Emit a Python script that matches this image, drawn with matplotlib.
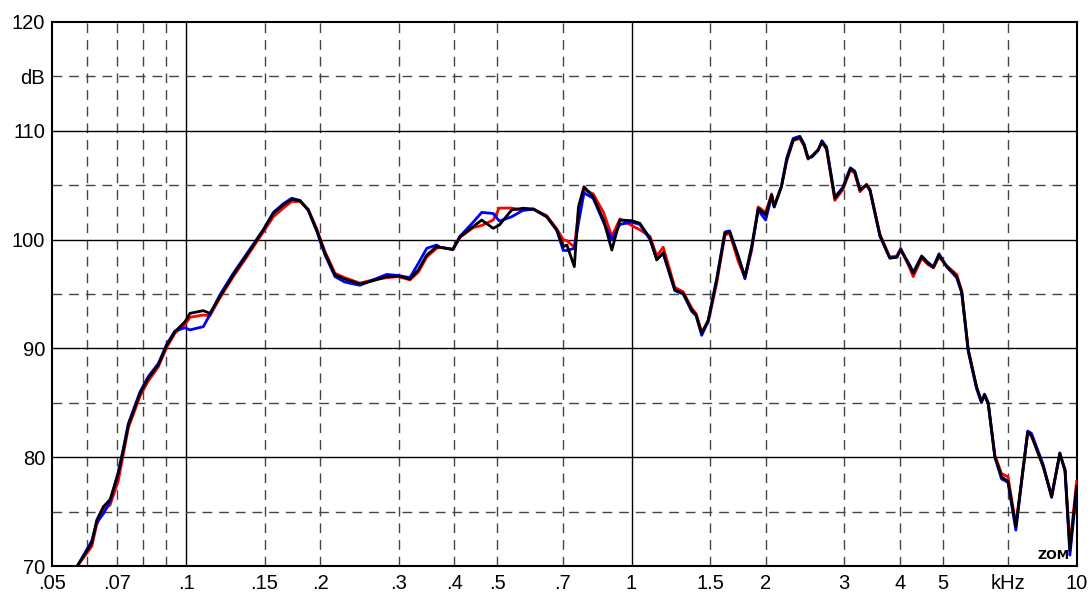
import matplotlib
matplotlib.use("Agg")
import matplotlib.pyplot as plt

# frequency points (kHz) shared by the three measurements
freq_khz = [0.057, 0.0614, 0.063, 0.0652, 0.0675, 0.0704, 0.0723, 0.0742, 0.0788, 0.0822,
            0.0866, 0.0905, 0.0944, 0.0994, 0.102, 0.1093, 0.1131, 0.119, 0.1276, 0.1368,
            0.149, 0.157, 0.1653, 0.1726, 0.1802, 0.188, 0.1964, 0.205, 0.2159, 0.227,
            0.2456, 0.263, 0.282, 0.300, 0.318, 0.332, 0.347, 0.365, 0.3715, 0.397,
            0.412, 0.441, 0.461, 0.489, 0.505, 0.538, 0.571, 0.602, 0.645, 0.679,
            0.7025, 0.716, 0.744, 0.760, 0.782, 0.820, 0.865, 0.903, 0.942, 1.0,
            1.044, 1.1, 1.139, 1.178, 1.251, 1.306, 1.365, 1.396, 1.437, 1.486,
            1.553, 1.62, 1.66, 1.736, 1.797, 1.86, 1.925, 2.0, 2.063, 2.09,
            2.17, 2.23, 2.306, 2.387, 2.44, 2.49, 2.54, 2.625, 2.675, 2.74,
            2.86, 2.98, 3.10, 3.17, 3.257, 3.37, 3.43, 3.61, 3.80, 3.94,
            4.02, 4.22, 4.29, 4.48, 4.63, 4.76, 4.9, 5.1, 5.37, 5.51,
            5.70, 5.95, 6.1, 6.2, 6.32, 6.54, 6.77, 7.0, 7.29, 7.75,
            7.9, 8.40, 8.77, 9.15, 9.4, 9.64, 9.98]

black_db = [70.0, 72.1, 74.2, 75.45, 76.1, 78.5, 80.66, 82.96, 85.87, 87.25,
            88.47, 90.31, 91.54, 92.45, 93.22, 93.47, 93.22, 94.75, 96.75, 98.58,
            100.88, 102.41, 103.18, 103.7, 103.57, 102.72, 100.88, 98.74, 96.75, 96.38,
            95.92, 96.22, 96.59, 96.65, 96.38, 97.2, 98.58, 99.35, 99.29, 99.1,
            100.27, 101.19, 101.8, 101.04, 101.34, 102.72, 102.88, 102.81, 102.1, 100.88,
            99.35, 99.5, 97.51, 103.02, 104.86, 103.94, 101.8, 99.04, 101.8, 101.74,
            101.5, 100.12, 98.13, 98.8, 95.37, 95.06, 93.53, 93.07, 91.39, 92.6,
            96.29, 100.58, 100.73, 98.43, 96.6, 99.35, 102.88, 102.26, 104.1, 103.0,
            104.86, 107.32, 109.15, 109.4, 108.7, 107.47, 107.62, 108.24, 109.0, 108.4,
            103.8, 104.72, 106.55, 106.24, 104.56, 105.02, 104.56, 100.4, 98.3, 98.37,
            99.04, 97.51, 96.9, 98.43, 97.82, 97.45, 98.58, 97.51, 96.59, 95.21,
            89.85, 86.48, 85.1, 85.72, 84.95, 80.05, 78.21, 77.75, 73.61, 82.3,
            82.0, 79.13, 76.37, 80.36, 78.82, 71.47, 77.29]

red_db = [70.0, 71.8, 73.8, 75.2, 75.6, 77.8, 80.3, 82.7, 85.6, 87.0,
          88.3, 90.1, 91.4, 92.2, 92.86, 93.07, 93.0, 94.6, 96.6, 98.4,
          100.7, 102.1, 102.9, 103.5, 103.5, 102.8, 101.0, 98.9, 96.9, 96.5,
          96.0, 96.3, 96.5, 96.6, 96.3, 97.0, 98.4, 99.2, 99.3, 99.1,
          100.2, 101.1, 101.3, 101.8, 102.9, 102.9, 102.7, 102.8, 102.2, 101.0,
          100.0, 99.9, 99.3, 102.5, 104.6, 104.2, 102.5, 100.3, 101.9, 101.3,
          100.9, 100.3, 98.5, 99.3, 95.6, 95.2, 93.7, 93.2, 91.5, 92.4,
          96.0, 100.4, 100.6, 98.0, 96.5, 99.0, 103.0, 102.5, 104.2, 103.1,
          104.9, 107.2, 109.1, 109.3, 108.6, 107.4, 107.7, 108.3, 108.9, 108.3,
          103.6, 104.6, 106.4, 106.1, 104.4, 105.1, 104.6, 100.5, 98.4, 98.5,
          99.2, 97.3, 96.6, 98.3, 97.7, 97.4, 98.4, 97.6, 96.8, 95.3,
          89.9, 86.4, 85.2, 85.6, 84.9, 80.2, 78.5, 78.2, 73.8, 82.2,
          82.0, 79.1, 76.5, 80.2, 78.9, 71.8, 77.8]

blue_db = [70.0, 72.3, 74.0, 74.8, 75.9, 78.6, 80.8, 83.1, 86.0, 87.4,
           88.6, 90.4, 91.6, 91.9, 91.7, 92.0, 93.1, 94.9, 96.9, 98.7,
           100.9, 102.5, 103.3, 103.8, 103.6, 102.7, 100.8, 98.6, 96.6, 96.1,
           95.8, 96.3, 96.8, 96.7, 96.5, 97.8, 99.2, 99.5, 99.3, 99.1,
           100.3, 101.6, 102.5, 102.4, 101.7, 102.1, 102.7, 102.8, 102.1, 100.9,
           99.0, 99.0, 99.2, 101.5, 104.3, 103.8, 101.6, 100.0, 101.4, 101.6,
           101.4, 100.0, 98.2, 98.7, 95.3, 95.0, 93.4, 93.0, 91.2, 92.5,
           96.4, 100.7, 100.8, 98.5, 96.4, 99.2, 102.7, 101.8, 104.0, 103.0,
           104.9, 107.5, 109.3, 109.5, 108.8, 107.5, 107.6, 108.2, 109.1, 108.5,
           103.9, 104.8, 106.6, 106.3, 104.6, 105.0, 104.5, 100.3, 98.3, 98.4,
           99.1, 97.6, 97.0, 98.5, 97.9, 97.5, 98.7, 97.5, 96.5, 95.1,
           89.7, 86.3, 85.0, 85.8, 85.0, 80.0, 78.0, 77.7, 73.3, 82.4,
           82.2, 79.3, 76.3, 80.4, 78.7, 71.0, 77.1]

x_tick_vals = [0.05, 0.07, 0.1, 0.15, 0.2, 0.3, 0.4, 0.5, 0.7, 1, 1.5, 2, 3, 4, 5, 7, 10]
x_tick_text = ['.05', '.07', '.1', '.15', '.2', '.3', '.4', '.5', '.7', '1', '1.5', '2',
               '3', '4', '5', 'kHz', '10']
y_tick_vals = [70, 80, 90, 100, 110, 115, 120]
y_tick_text = ['70', '80', '90', '100', '110', 'dB', '120']

x_solid = [0.1, 1]
x_dashed = [0.06, 0.07, 0.08, 0.09, 0.15, 0.2, 0.3, 0.4, 0.5, 0.7, 1.5, 2, 3, 4, 5, 7]
y_solid = [80, 90, 100, 110]
y_dashed = [75, 85, 95, 105, 115]

plt.rcParams['font.family'] = ['Liberation Sans', 'DejaVu Sans']

fig = plt.figure(figsize=(10.91, 5.94), dpi=100)
ax = fig.add_axes([52 / 1091, 28 / 594, 1025 / 1091, 544 / 594])

ax.set_xscale('log')
ax.set_xlim(0.05, 10)
ax.set_ylim(70, 120)

for v in x_solid:
    ax.axvline(v, color='black', lw=1.0, zorder=1)
for v in x_dashed:
    ax.axvline(v, color='#444444', lw=1.0, ls=(0, (7, 5)), zorder=1)
for v in y_solid:
    ax.axhline(v, color='black', lw=1.0, zorder=1)
for v in y_dashed:
    ax.axhline(v, color='#444444', lw=1.0, ls=(0, (7, 5)), zorder=1)

ax.plot(freq_khz, red_db, color='#ff0000', lw=2.0, zorder=3, solid_joinstyle='round')
ax.plot(freq_khz, blue_db, color='#0000ff', lw=2.0, zorder=4, solid_joinstyle='round')
ax.plot(freq_khz, black_db, color='black', lw=2.0, zorder=5, solid_joinstyle='round')

ax.set_xticks(x_tick_vals)
ax.set_xticklabels(x_tick_text)
ax.xaxis.set_minor_locator(matplotlib.ticker.NullLocator())
ax.set_yticks(y_tick_vals)
ax.set_yticklabels(y_tick_text)
ax.tick_params(length=0, labelsize=14.5)
ax.tick_params(axis='x', pad=6)
ax.tick_params(axis='y', pad=5)

for s in ax.spines.values():
    s.set_linewidth(1.5)

ax.text(0.993, 0.008, 'ZOM', transform=ax.transAxes, ha='right', va='bottom',
        fontsize=9, fontweight='bold', family='DejaVu Sans')

fig.savefig('out.png', dpi=100)
